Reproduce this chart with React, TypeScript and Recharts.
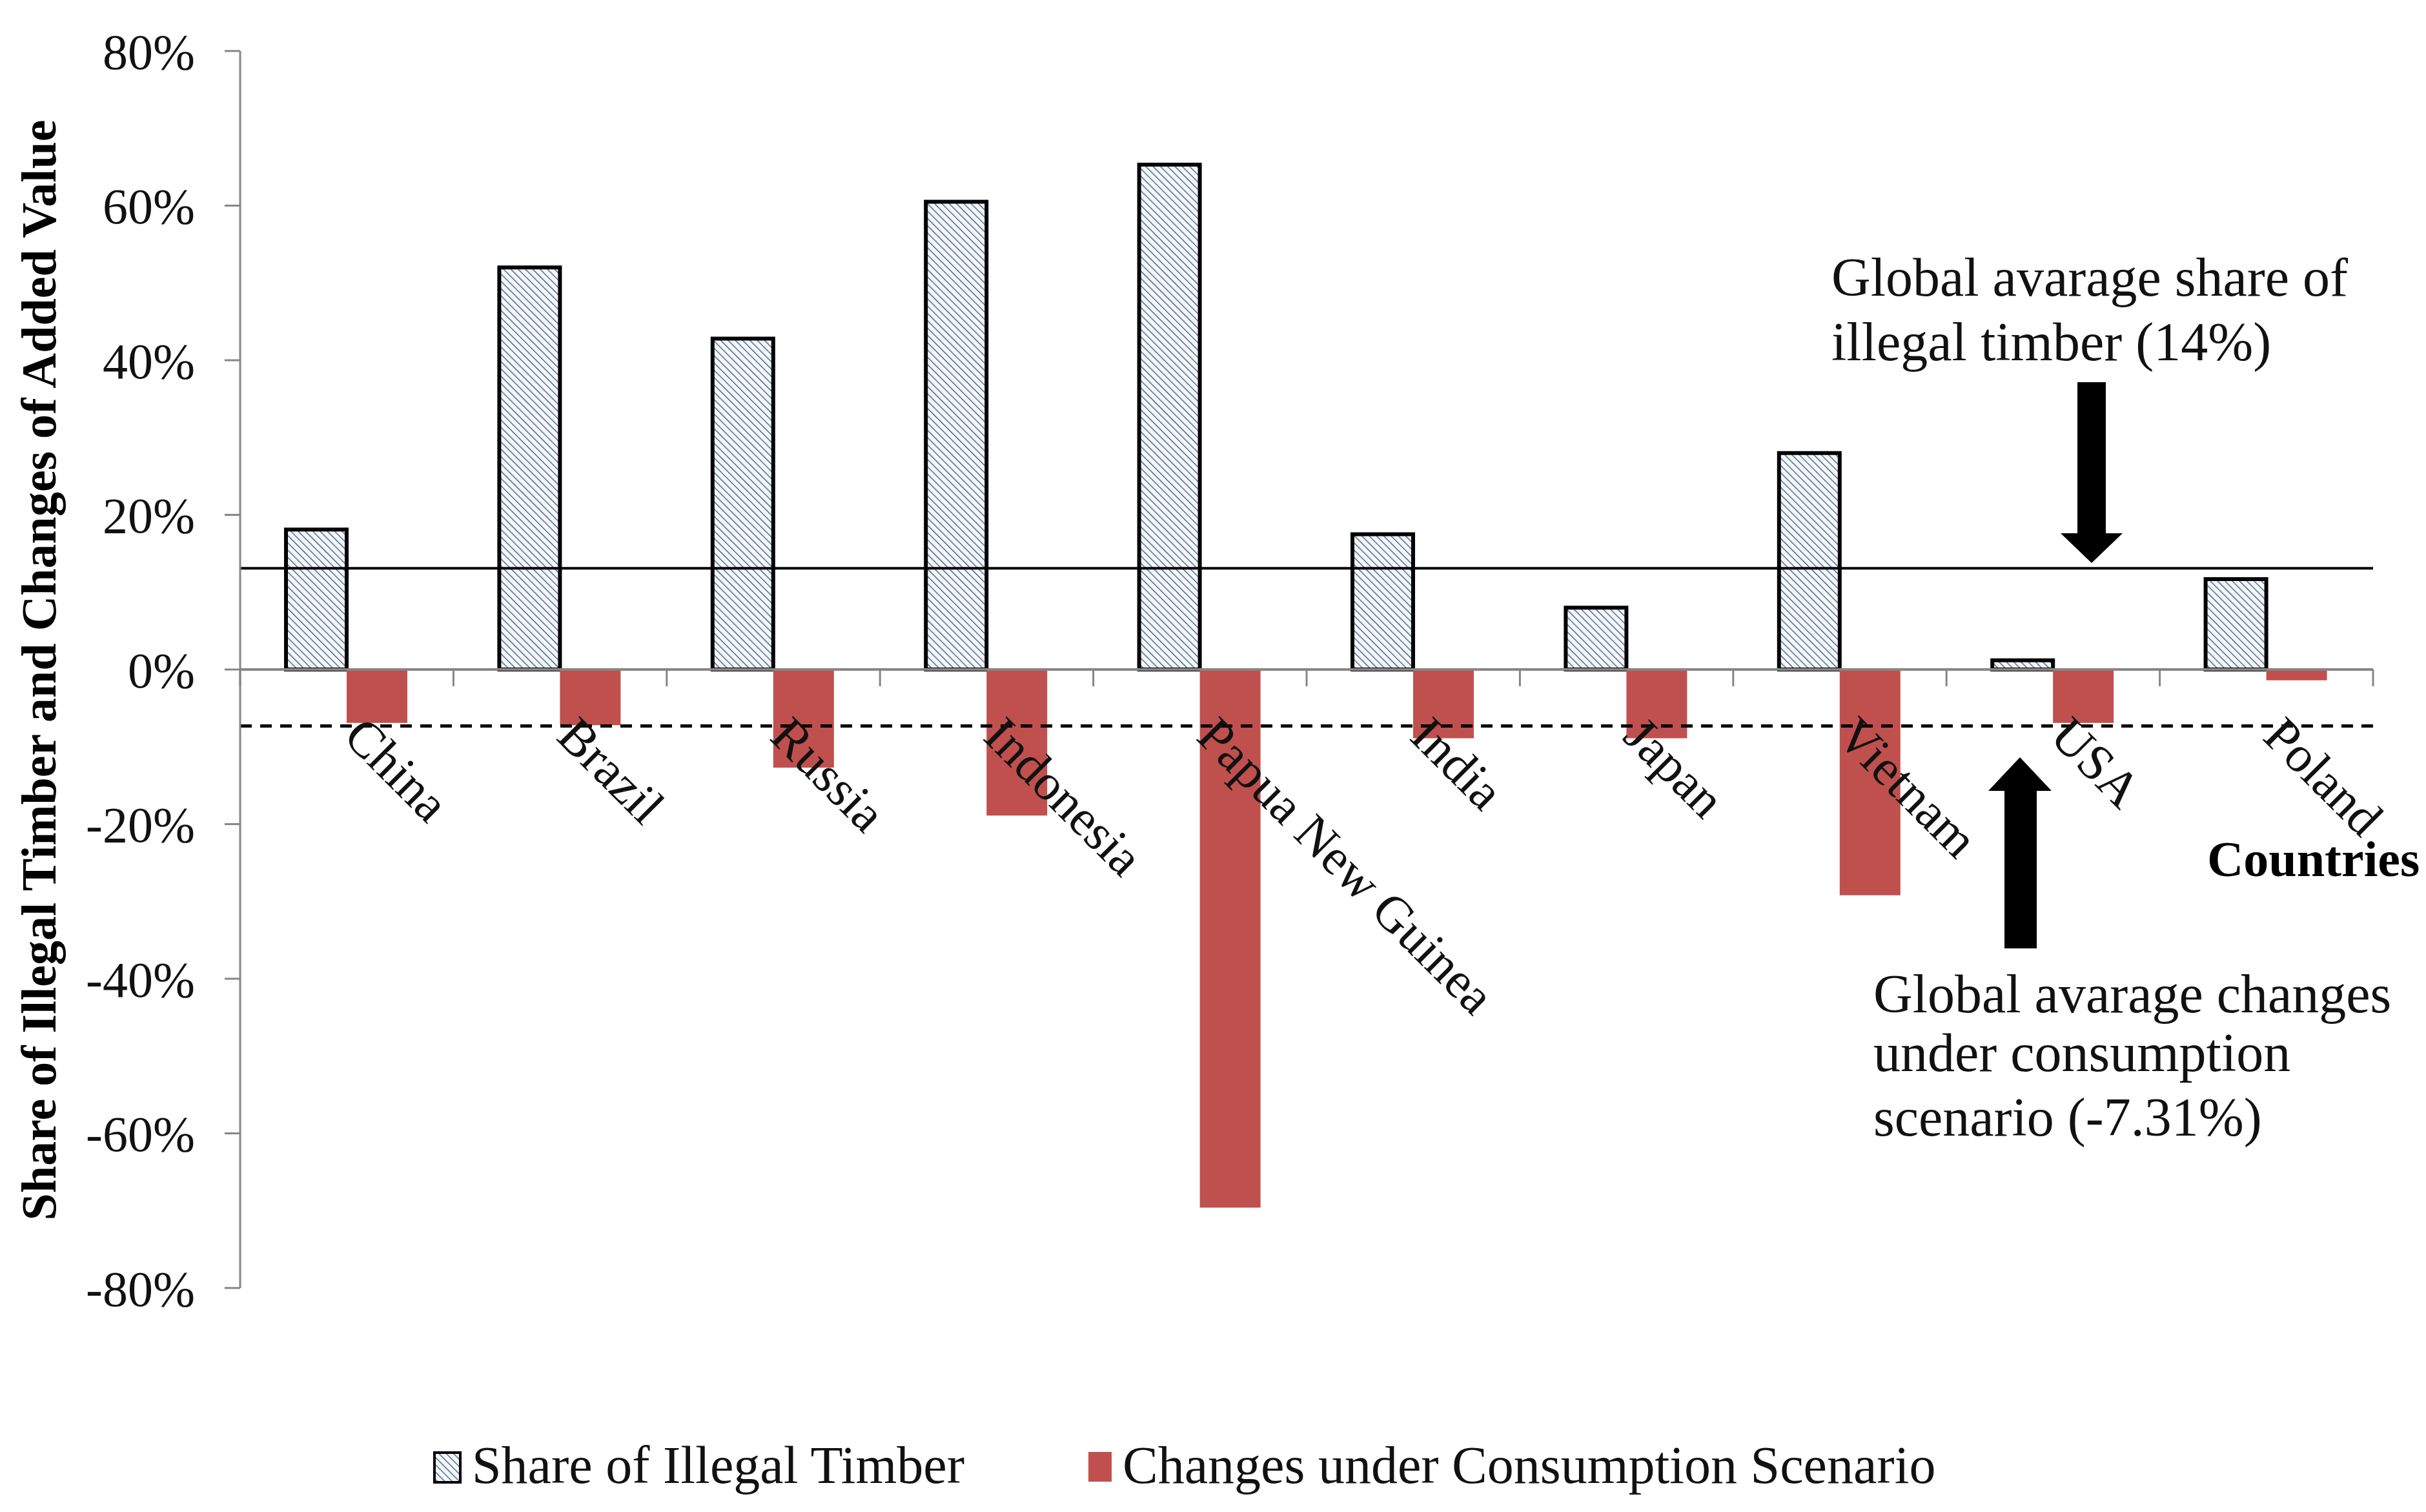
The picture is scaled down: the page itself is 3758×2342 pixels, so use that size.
import { BarChart, Bar, XAxis, YAxis, ReferenceLine } from 'recharts'

// values (percent)
const countries = ['China', 'Brazil', 'Russia', 'Indonesia', 'Papua New Guinea', 'India', 'Japan', 'Vietnam', 'USA', 'Poland']
const illegalShare = [18.1, 52, 42.8, 60.5, 65.3, 17.5, 8, 28, 1.2, 11.7]
const consumptionChange = [-6.9, -7.2, -12.7, -18.9, -69.6, -8.9, -8.9, -29.2, -6.9, -1.4]
const yTicks = [-80, -60, -40, -20, 0, 20, 40, 60, 80]
const globalShareLine = 13.1
const globalChangeLine = -7.31

const W = 3758
const H = 2342
const TOP = 79
const BOTTOM = 1995
const LEFT = 372
const RIGHT = 3676
const X_AXIS_H = 40
const ZERO_Y = (TOP + BOTTOM) / 2
const STEP = (RIGHT - LEFT) / countries.length
const FONT = '"Liberation Serif", "Times New Roman", serif'
const AXIS_GREY = '#868686'
const RED = '#C0504D'

const data = countries.map((name, i) => ({
    name,
    share: illegalShare[i],
    change: consumptionChange[i],
}))

// category labels and boundary ticks hang off the 0% line, not the plot bottom
const CategoryTick = (props: any) => {
    const { x, payload, index } = props
    const tx = x - 8
    const ty = ZERO_Y + 107
    return (
        <g>
            <line x1={x - STEP / 2} y1={ZERO_Y} x2={x - STEP / 2} y2={ZERO_Y + 26} stroke={AXIS_GREY} strokeWidth={3} />
            {index === countries.length - 1 && (
                <line x1={x + STEP / 2} y1={ZERO_Y} x2={x + STEP / 2} y2={ZERO_Y + 26} stroke={AXIS_GREY} strokeWidth={3} />
            )}
            <text x={tx} y={ty} transform={`rotate(45 ${tx} ${ty})`} fontSize={79} fontFamily={FONT} fill="#111" textAnchor="start">
                {payload.value}
            </text>
        </g>
    )
}

const App = () => {
    return (
        <div style={{ position: 'absolute', left: 0, top: 0, width: W, height: H, background: '#fff' }}>
            {/* shared pattern for the hatched bars and legend swatch */}
            <svg width={0} height={0} style={{ position: 'absolute' }}>
                <defs>
                    <pattern id="hatch" patternUnits="userSpaceOnUse" width={8} height={8} patternTransform="rotate(-45)">
                        <rect width={8} height={8} fill="#f3f7fc" />
                        <line x1={0} y1={0} x2={0} y2={8} stroke="#3d5370" strokeWidth={2.6} />
                    </pattern>
                </defs>
            </svg>

            <BarChart
                width={W}
                height={H}
                data={data}
                barGap={0}
                margin={{ top: TOP, right: W - RIGHT, bottom: H - BOTTOM - X_AXIS_H, left: 0 }}
            >
                <XAxis
                    dataKey="name"
                    height={X_AXIS_H}
                    interval={0}
                    axisLine={false}
                    tickLine={false}
                    tick={<CategoryTick />}
                />
                <YAxis
                    type="number"
                    width={LEFT}
                    domain={[-80, 80]}
                    ticks={yTicks}
                    interval={0}
                    tickFormatter={(v) => `${v}%`}
                    axisLine={{ stroke: AXIS_GREY, strokeWidth: 3 }}
                    tickLine={{ stroke: AXIS_GREY, strokeWidth: 3 }}
                    tickSize={24}
                    tickMargin={46}
                    tick={{ fontSize: 78, fill: '#111', fontFamily: FONT }}
                />
                <ReferenceLine y={0} stroke={AXIS_GREY} strokeWidth={4} />
                <Bar dataKey="share" fill="url(#hatch)" stroke="#000" strokeWidth={6} barSize={94} isAnimationActive={false} />
                <Bar dataKey="change" fill={RED} barSize={94} isAnimationActive={false} />
                <ReferenceLine y={globalShareLine} stroke="#000" strokeWidth={4} />
                <ReferenceLine y={globalChangeLine} stroke="#000" strokeWidth={5} strokeDasharray="18 13" />
            </BarChart>

            {/* annotations, axis title and legend */}
            <svg width={W} height={H} style={{ position: 'absolute', left: 0, top: 0, pointerEvents: 'none' }}>
                <text
                    x={86}
                    y={1038}
                    transform="rotate(-90 86 1038)"
                    textAnchor="middle"
                    fontSize={76}
                    fontWeight="bold"
                    fontFamily={FONT}
                    fill="#000"
                >
                    Share of Illegal Timber and Changes of Added Value
                </text>

                <g fontFamily={FONT} fontSize={84} fill="#111" style={{ whiteSpace: 'pre' }}>
                    <text x={2837} y={458}>Global  avarage share of</text>
                    <text x={2837} y={558}>illegal  timber   (14%)</text>
                    <text x={2902} y={1568}>Global  avarage changes</text>
                    <text x={2902} y={1659}>under consumption</text>
                    <text x={2902} y={1759}>scenario  (-7.31%)</text>
                </g>

                <text x={3419} y={1357} fontFamily={FONT} fontSize={78} fontWeight="bold" fill="#000">
                    Countries
                </text>

                {/* down arrow */}
                <rect x={3218} y={592} width={44} height={236} fill="#000" />
                <polygon points="3192,826 3288,826 3240,872" fill="#000" />
                {/* up arrow */}
                <rect x={3105} y={1222} width={50} height={247} fill="#000" />
                <polygon points="3080,1225 3178,1225 3129,1173" fill="#000" />

                {/* legend */}
                <rect x={673} y={2250} width={40} height={46} fill="url(#hatch)" stroke="#000" strokeWidth={4} />
                <text x={731} y={2297} fontFamily={FONT} fontSize={82} fill="#111">Share of Illegal Timber</text>
                <rect x={1686} y={2249} width={36} height={46} fill={RED} />
                <text x={1739} y={2297} fontFamily={FONT} fontSize={82} fill="#111">Changes under Consumption Scenario</text>
            </svg>
        </div>
    )
}

export default App
